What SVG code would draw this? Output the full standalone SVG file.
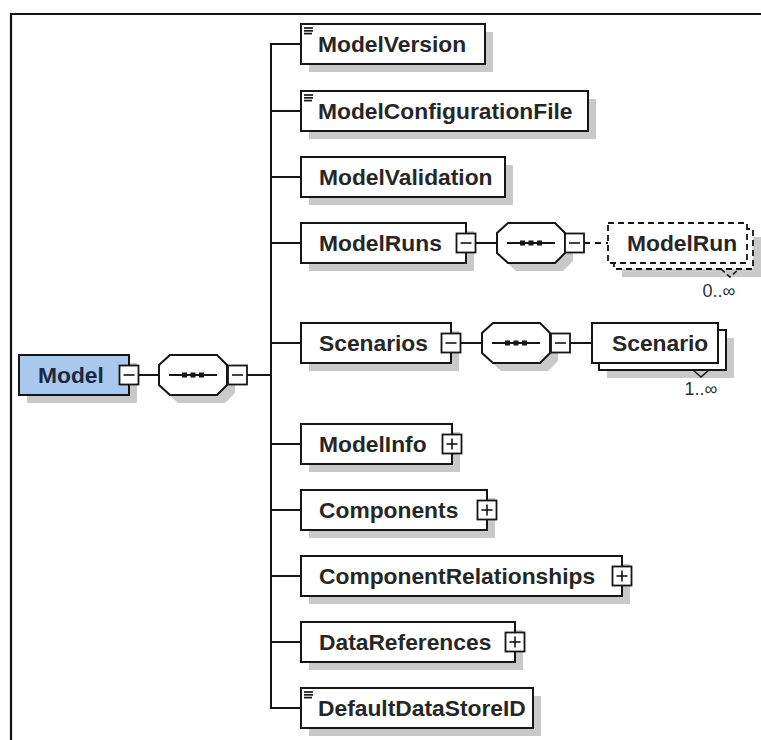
<svg xmlns="http://www.w3.org/2000/svg" width="761" height="740" viewBox="0 0 761 740">
  <style>
    .frame { fill: none; stroke: #111; stroke-width: 2.2; }
    .box { fill: #fff; stroke: #151515; stroke-width: 2; }
    .root { fill: #a8c8ee; stroke: #151515; stroke-width: 2; }
    .dash { fill: #fff; stroke: #151515; stroke-width: 1.8; stroke-dasharray: 6 4; }
    .shadow { fill: #c9c9c9; }
    .lbl { font-family: "Liberation Sans", Arial, sans-serif; font-weight: bold; font-size: 22.8px; fill: #262626; }
    .root-lbl { fill: #1b2840; }
    .card { font-family: "Liberation Sans", Arial, sans-serif; font-size: 18px; fill: #303030; text-anchor: middle; }
    .conn { fill: none; stroke: #151515; stroke-width: 2; }
    .conn-dash { fill: none; stroke: #151515; stroke-width: 2; stroke-dasharray: 6 5; }
    .btn { fill: #fff; stroke: #151515; stroke-width: 1.8; }
    .btn-mark { stroke: #151515; stroke-width: 1.6; }
    .icon { stroke: #151515; stroke-width: 1.7; }
    .vmark { fill: none; stroke: #151515; stroke-width: 1.5; }
  </style>
  <defs>
    <!-- sequence compositor: octagon with a dotted line -->
    <g id="seq">
      <path class="shadow" d="M19,8 H66 L76,18 V38 L66,48 H19 L8,38 V18 Z"/>
      <path class="box" d="M11,0 H58 L68,10 V30 L58,40 H11 L0,30 V10 Z"/>
      <line class="conn" x1="10" y1="20" x2="58" y2="20"/>
      <rect x="23" y="17.5" width="5" height="5" fill="#151515"/>
      <rect x="31.5" y="17.5" width="5" height="5" fill="#151515"/>
      <rect x="40" y="17.5" width="5" height="5" fill="#151515"/>
    </g>
    <!-- collapse / expand buttons (19x19, origin at top-left) -->
    <g id="minus">
      <rect class="btn" x="0" y="0" width="19" height="19"/>
      <line class="btn-mark" x1="4" y1="9.5" x2="15" y2="9.5"/>
    </g>
    <g id="plus">
      <rect class="btn" x="0" y="0" width="19" height="19"/>
      <line class="btn-mark" x1="4" y1="9.5" x2="15" y2="9.5"/>
      <line class="btn-mark" x1="9.5" y1="4" x2="9.5" y2="15"/>
    </g>
    <!-- simple-content icon -->
    <g id="simple">
      <line class="icon" x1="304" y1="28" x2="313" y2="28"/>
      <line class="icon" x1="304" y1="30.8" x2="313" y2="30.8"/>
      <line class="icon" x1="304" y1="33.6" x2="312" y2="33.6"/>
    </g>
  </defs>

  <rect width="761" height="740" fill="#fff"/>
  <path class="frame" d="M11,740 V14 H761"/>

  <!-- connectors -->
  <g id="connectors">
    <line class="conn" x1="138" y1="375" x2="159" y2="375"/>
    <line class="conn" x1="247" y1="375" x2="271" y2="375"/>
    <line class="conn" x1="271" y1="44" x2="271" y2="708"/>
    <line class="conn" x1="270" y1="44" x2="301" y2="44"/>
    <line class="conn" x1="270" y1="111" x2="301" y2="111"/>
    <line class="conn" x1="270" y1="177" x2="301" y2="177"/>
    <line class="conn" x1="270" y1="243" x2="301" y2="243"/>
    <line class="conn" x1="270" y1="343" x2="301" y2="343"/>
    <line class="conn" x1="270" y1="444" x2="301" y2="444"/>
    <line class="conn" x1="270" y1="510" x2="301" y2="510"/>
    <line class="conn" x1="270" y1="576" x2="301" y2="576"/>
    <line class="conn" x1="270" y1="642" x2="301" y2="642"/>
    <line class="conn" x1="270" y1="708" x2="301" y2="708"/>
    <line class="conn" x1="475" y1="243" x2="497" y2="243"/>
    <line class="conn-dash" x1="584" y1="243" x2="608" y2="243"/>
    <line class="conn" x1="460" y1="343" x2="482" y2="343"/>
    <line class="conn" x1="570" y1="343" x2="592" y2="343"/>
  </g>

  <!-- root element -->
  <g id="node-model">
    <rect class="shadow" x="27" y="363" width="110" height="40"/>
    <rect class="root" x="19" y="355" width="110" height="40"/>
    <text class="lbl root-lbl" x="38" y="383">Model</text>
    <use href="#minus" x="119.5" y="365.5"/>
  </g>
  <g id="seq-model">
    <use href="#seq" x="159" y="355"/>
    <use href="#minus" x="228" y="365.5"/>
  </g>

  <g id="node-modelversion">
    <rect class="shadow" x="309" y="32" width="184" height="40"/>
    <rect class="box" x="301" y="24" width="184" height="40"/>
    <use href="#simple"/>
    <text class="lbl" x="318" y="52">ModelVersion</text>
  </g>

  <g id="node-modelconfigurationfile">
    <rect class="shadow" x="309" y="99" width="287" height="40"/>
    <rect class="box" x="301" y="91" width="287" height="40"/>
    <use href="#simple" y="67"/>
    <text class="lbl" x="318" y="119">ModelConfigurationFile</text>
  </g>

  <g id="node-modelvalidation">
    <rect class="shadow" x="309" y="165" width="204" height="40"/>
    <rect class="box" x="301" y="157" width="204" height="40"/>
    <text class="lbl" x="319" y="185">ModelValidation</text>
  </g>

  <g id="node-modelruns">
    <rect class="shadow" x="309" y="231" width="165" height="40"/>
    <rect class="box" x="301" y="223" width="165" height="40"/>
    <text class="lbl" x="319" y="251">ModelRuns</text>
    <use href="#minus" x="456.5" y="233.5"/>
  </g>
  <g id="seq-modelruns">
    <use href="#seq" x="497" y="223"/>
    <use href="#minus" x="565" y="233.5"/>
  </g>

  <g id="node-modelrun">
    <rect class="shadow" x="622" y="237" width="139" height="40"/>
    <rect class="dash" x="614" y="229" width="139" height="40"/>
    <rect class="dash" x="608" y="223" width="139" height="40"/>
    <text class="lbl" x="627" y="251">ModelRun</text>
    <polyline class="vmark" stroke-dasharray="5 3" points="721,269 730,277 739,269"/>
    <text class="card" x="719" y="297">0..∞</text>
  </g>

  <g id="node-scenarios">
    <rect class="shadow" x="309" y="331" width="150" height="40"/>
    <rect class="box" x="301" y="323" width="150" height="40"/>
    <text class="lbl" x="319" y="351">Scenarios</text>
    <use href="#minus" x="441.5" y="333.5"/>
  </g>
  <g id="seq-scenarios">
    <use href="#seq" x="482" y="323"/>
    <use href="#minus" x="551" y="333.5"/>
  </g>

  <g id="node-scenario">
    <rect class="shadow" x="607" y="338" width="127" height="40"/>
    <rect class="box" x="599" y="330" width="127" height="40"/>
    <rect class="box" x="592" y="323" width="126" height="40"/>
    <text class="lbl" x="612" y="351">Scenario</text>
    <polyline class="vmark" points="693,370 701,377 709,370"/>
    <text class="card" x="701" y="395">1..∞</text>
  </g>

  <g id="node-modelinfo">
    <rect class="shadow" x="309" y="432" width="151" height="40"/>
    <rect class="box" x="301" y="424" width="151" height="40"/>
    <text class="lbl" x="319" y="452">ModelInfo</text>
    <use href="#plus" x="442.5" y="434.5"/>
  </g>

  <g id="node-components">
    <rect class="shadow" x="309" y="498" width="186" height="40"/>
    <rect class="box" x="301" y="490" width="186" height="40"/>
    <text class="lbl" x="319" y="518">Components</text>
    <use href="#plus" x="477.5" y="500.5"/>
  </g>

  <g id="node-componentrelationships">
    <rect class="shadow" x="309" y="564" width="321" height="40"/>
    <rect class="box" x="301" y="556" width="321" height="40"/>
    <text class="lbl" x="319" y="584">ComponentRelationships</text>
    <use href="#plus" x="612.5" y="566.5"/>
  </g>

  <g id="node-datareferences">
    <rect class="shadow" x="309" y="630" width="214" height="40"/>
    <rect class="box" x="301" y="622" width="214" height="40"/>
    <text class="lbl" x="319" y="650">DataReferences</text>
    <use href="#plus" x="505.5" y="632.5"/>
  </g>

  <g id="node-defaultdatastoreid">
    <rect class="shadow" x="309" y="696" width="232" height="40"/>
    <rect class="box" x="301" y="688" width="232" height="40"/>
    <use href="#simple" y="664"/>
    <text class="lbl" x="318" y="716">DefaultDataStoreID</text>
  </g>
</svg>
